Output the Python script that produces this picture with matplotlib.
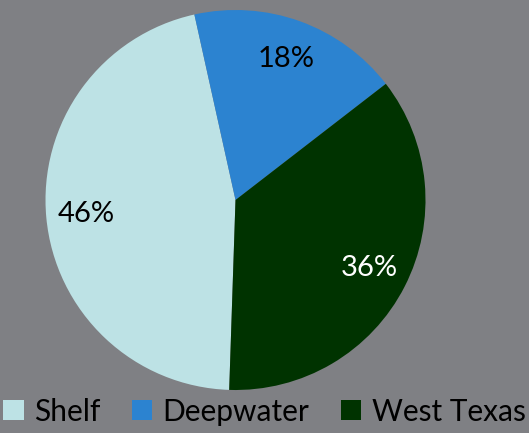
import matplotlib
matplotlib.use("Agg")
import matplotlib.pyplot as plt
from matplotlib.patches import Patch

categories = ["Shelf", "Deepwater", "West Texas"]
values = [46, 18, 36]
colors = ["#BDE2E5", "#2C83D0", "#003300"]
label_colors = ["black", "black", "white"]

bg = "#7F8084"
fig = plt.figure(figsize=(5.29, 4.33), dpi=100, facecolor=bg)
ax = fig.add_axes([45/529, 1 - 390/433, 381/529, 380/433])
ax.set_facecolor(bg)

wedges, texts, autotexts = ax.pie(values, colors=colors, startangle=268.1, counterclock=False,
                                  autopct="%d%%", pctdistance=0.79,
                                  textprops=dict(fontsize=21, family=["Lato", "DejaVu Sans"]))
for t, c in zip(autotexts, label_colors):
    t.set_color(c)
ax.set_xlim(-1, 1)
ax.set_ylim(-1, 1)
ax.set_aspect("equal")

handles = [Patch(facecolor=c, edgecolor="none") for c in colors]
leg = fig.legend(handles, categories, loc="lower center", bbox_to_anchor=(0.5, -0.045), ncol=3,
                 frameon=False, prop=dict(family=["Lato", "DejaVu Sans"], size=21.5),
                 handlelength=0.68, handleheight=0.68, handletextpad=0.35, columnspacing=1.05)
fig.savefig("out.png", dpi=100, facecolor=bg)
